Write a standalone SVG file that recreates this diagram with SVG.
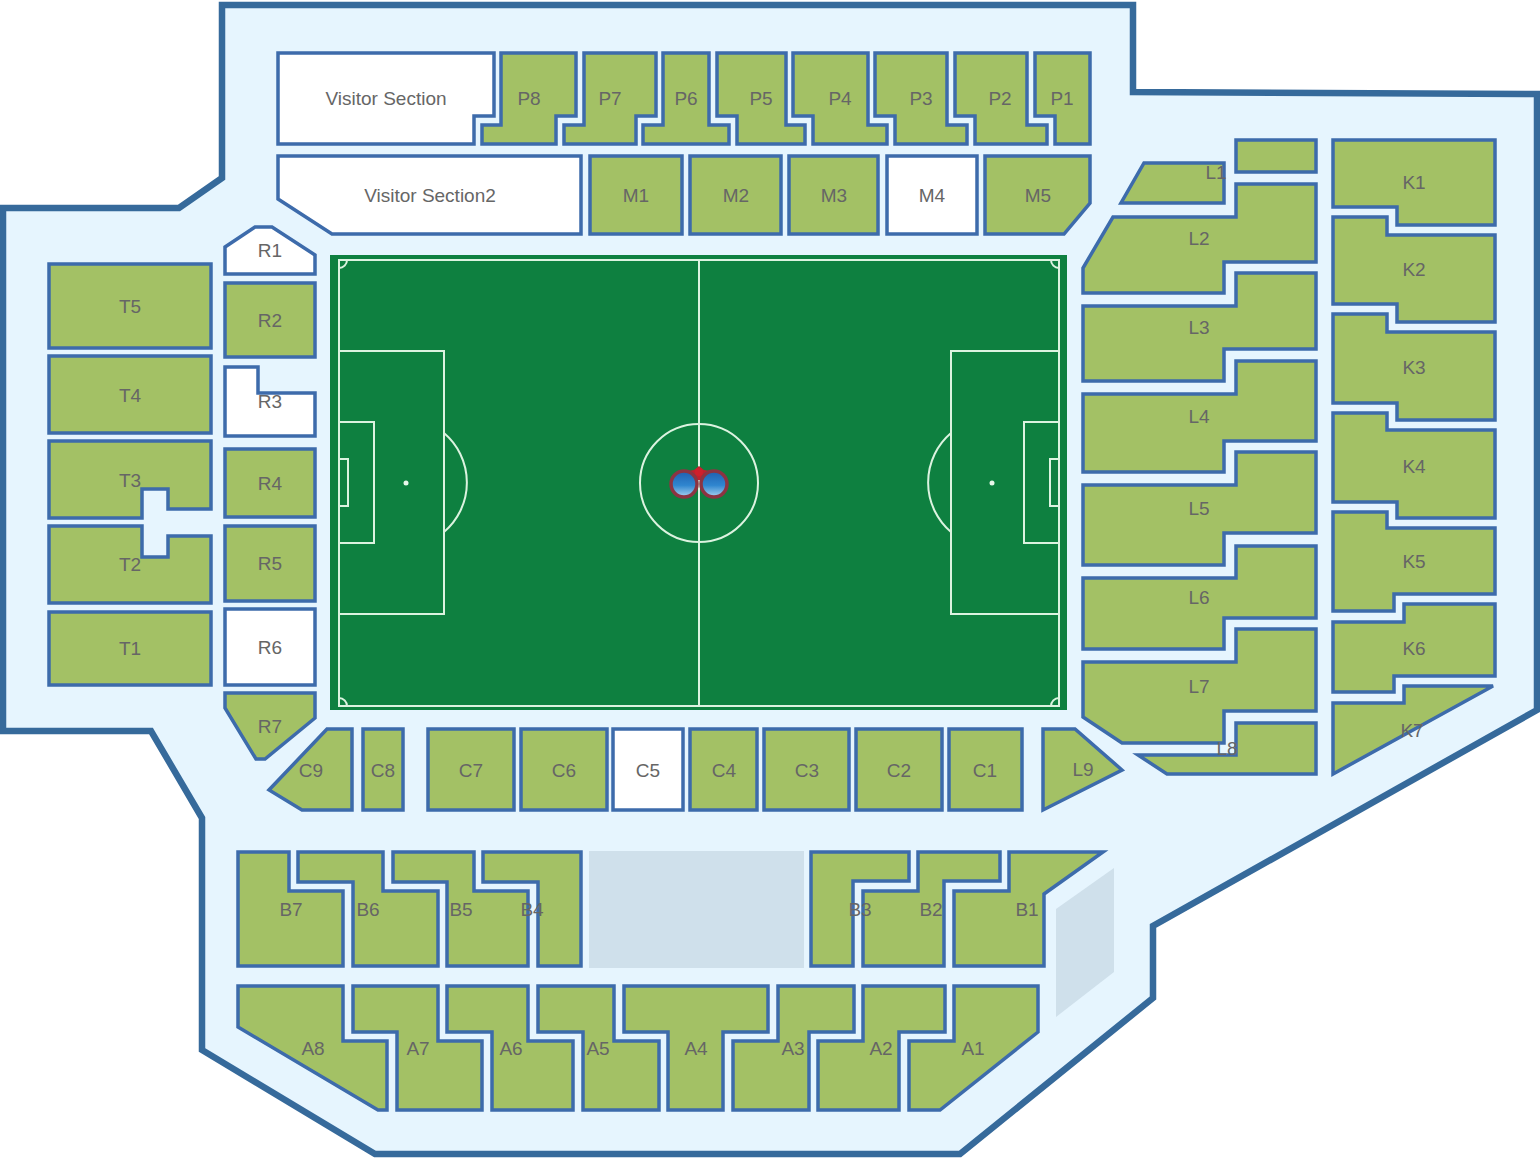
<svg xmlns="http://www.w3.org/2000/svg" width="1540" height="1165" viewBox="0 0 1540 1165">
<defs>
<linearGradient id="lens" x1="0" y1="0" x2="0" y2="1"><stop offset="0" stop-color="#1f5fb0"/><stop offset="0.55" stop-color="#2f86cf"/><stop offset="1" stop-color="#a9d3ee"/></linearGradient>
</defs>
<style>
text{font-family:"Liberation Sans",Arial,sans-serif;font-size:19px;fill:#666;text-anchor:middle}
.g path,.g polygon,.g rect{fill:#a3c165;stroke:#3d6bab;stroke-width:3.5}
.w path,.w polygon,.w rect{fill:#fff;stroke:#3d6bab;stroke-width:3.5}
.l{fill:none;stroke:#dcf3e0;stroke-width:2}
</style>
<rect width="1540" height="1165" fill="#fff"/>
<polygon id="outline" points="222,5 1133,5 1133,92 1537,94 1537,710 1153,926 1153,998 960,1154 375,1154 202,1050 202,818 151,731 3,731 3,208 179,208 222,178" fill="#e6f5fe" stroke="#366a9b" stroke-width="6.5"/>
<rect x="589" y="851" width="215" height="117" fill="#cfe0eb"/>
<polygon points="1056,909 1114,868 1114,972 1056,1017" fill="#cfe0eb"/>
<g id="pitch">
<rect x="330" y="255" width="737" height="455" fill="#0e8040"/>
<rect class="l" x="339" y="260" width="720" height="446"/>
<path class="l" d="M699 260V706M339 351H444V614H339M339 422H374V543H339M339 459H348V506H339M444 433A65 65 0 0 1 444 532M1059 351H951V614H1059M1059 422H1024V543H1059M1059 459H1050V506H1059M951 433A65 65 0 0 0 951 532M339 268A8 8 0 0 0 347 260M1051 260A8 8 0 0 0 1059 268M339 698A8 8 0 0 1 347 706M1059 698A8 8 0 0 0 1051 706"/>
<circle class="l" cx="699" cy="483" r="59"/>
<circle cx="406" cy="483" r="2.5" fill="#e8f7ea"/>
<circle cx="992" cy="483" r="2.5" fill="#e8f7ea"/>
</g>
<g id="binoculars">
<path d="M676 473L694 470L699 466L704 470L722 473L714 480H684Z" fill="#c0202e"/>
<circle cx="684" cy="484" r="13" fill="url(#lens)" stroke="#8c3442" stroke-width="3.5"/>
<circle cx="714" cy="484" r="13" fill="url(#lens)" stroke="#8c3442" stroke-width="3.5"/>
<circle cx="699" cy="472" r="4" fill="#d01f2c"/>
</g>
<g id="Visitor-Section" class="w"><polygon points="278,53 494,53 494,116 474,116 474,144 278,144"/><text x="386" y="105">Visitor Section</text></g>
<g id="P8" class="g"><polygon points="501,53 576,53 576,116 556,116 556,144 482,144 482,125 501,125"/><text x="529" y="105">P8</text></g>
<g id="P7" class="g"><polygon points="584,53 656,53 656,116 636,116 636,144 564,144 564,125 584,125"/><text x="610" y="105">P7</text></g>
<g id="P6" class="g"><polygon points="663,53 709,53 709,125 729,125 729,144 643,144 643,125 663,125"/><text x="686" y="105">P6</text></g>
<g id="P5" class="g"><polygon points="717,53 786,53 786,125 805,125 805,144 737,144 737,116 717,116"/><text x="761" y="105">P5</text></g>
<g id="P4" class="g"><polygon points="793,53 868,53 868,125 887,125 887,144 813,144 813,116 793,116"/><text x="840" y="105">P4</text></g>
<g id="P3" class="g"><polygon points="875,53 947,53 947,125 967,125 967,144 895,144 895,116 875,116"/><text x="921" y="105">P3</text></g>
<g id="P2" class="g"><polygon points="955,53 1027,53 1027,125 1047,125 1047,144 975,144 975,116 955,116"/><text x="1000" y="105">P2</text></g>
<g id="P1" class="g"><polygon points="1035,53 1090,53 1090,144 1055,144 1055,116 1035,116"/><text x="1062" y="105">P1</text></g>
<g id="Visitor-Section2" class="w"><polygon points="278,156 581,156 581,234 332,234 278,199"/><text x="430" y="202">Visitor Section2</text></g>
<g id="M1" class="g"><rect x="590" y="156" width="92" height="78"/><text x="636" y="202">M1</text></g>
<g id="M2" class="g"><rect x="690" y="156" width="91" height="78"/><text x="736" y="202">M2</text></g>
<g id="M3" class="g"><rect x="789" y="156" width="89" height="78"/><text x="834" y="202">M3</text></g>
<g id="M4" class="w"><rect x="887" y="156" width="90" height="78"/><text x="932" y="202">M4</text></g>
<g id="M5" class="g"><polygon points="985,156 1090,156 1090,203 1064,234 985,234"/><text x="1038" y="202">M5</text></g>
<g id="R1" class="w"><polygon points="225,247 255,227 272,227 315,255 315,274 225,274"/><text x="270" y="257">R1</text></g>
<g id="R2" class="g"><rect x="225" y="283" width="90" height="74"/><text x="270" y="327">R2</text></g>
<g id="R3" class="w"><polygon points="225,367 258,367 258,393 315,393 315,436 225,436"/><text x="270" y="408">R3</text></g>
<g id="R4" class="g"><rect x="225" y="449" width="90" height="68"/><text x="270" y="490">R4</text></g>
<g id="R5" class="g"><rect x="225" y="526" width="90" height="75"/><text x="270" y="570">R5</text></g>
<g id="R6" class="w"><rect x="225" y="609" width="90" height="76"/><text x="270" y="654">R6</text></g>
<g id="R7" class="g"><polygon points="225,693 315,693 315,718 265,759 256,759 225,708"/><text x="270" y="733">R7</text></g>
<g id="T5" class="g"><rect x="49" y="264" width="162" height="84"/><text x="130" y="313">T5</text></g>
<g id="T4" class="g"><rect x="49" y="356" width="162" height="77"/><text x="130" y="402">T4</text></g>
<g id="T3" class="g"><polygon points="49,441 211,441 211,509 168,509 168,489 142,489 142,518 49,518"/><text x="130" y="487">T3</text></g>
<g id="T2" class="g"><polygon points="49,526 142,526 142,557 168,557 168,536 211,536 211,603 49,603"/><text x="130" y="571">T2</text></g>
<g id="T1" class="g"><rect x="49" y="612" width="162" height="73"/><text x="130" y="655">T1</text></g>
<g id="C9" class="g"><polygon points="327,729 352,729 352,810 302,810 269,790"/><text x="311" y="777">C9</text></g>
<g id="C8" class="g"><rect x="363" y="729" width="40" height="81"/><text x="383" y="777">C8</text></g>
<g id="C7" class="g"><rect x="428" y="729" width="86" height="81"/><text x="471" y="777">C7</text></g>
<g id="C6" class="g"><rect x="521" y="729" width="86" height="81"/><text x="564" y="777">C6</text></g>
<g id="C5" class="w"><rect x="613" y="729" width="70" height="81"/><text x="648" y="777">C5</text></g>
<g id="C4" class="g"><rect x="690" y="729" width="67" height="81"/><text x="724" y="777">C4</text></g>
<g id="C3" class="g"><rect x="764" y="729" width="85" height="81"/><text x="807" y="777">C3</text></g>
<g id="C2" class="g"><rect x="856" y="729" width="86" height="81"/><text x="899" y="777">C2</text></g>
<g id="C1" class="g"><rect x="949" y="729" width="73" height="81"/><text x="985" y="777">C1</text></g>
<g id="L9" class="g"><polygon points="1043,729 1075,729 1122,770 1043,810"/><text x="1083" y="776">L9</text></g>
<g id="L1" class="g"><path d="M1144 163H1224V203H1121ZM1236 140H1316V172H1236Z"/><text x="1216" y="179">L1</text></g>
<g id="L2" class="g"><polygon points="1113,217 1236,217 1236,184 1316,184 1316,262 1224,262 1224,293 1083,293 1083,268"/><text x="1199" y="245">L2</text></g>
<g id="L3" class="g"><polygon points="1083,306 1236,306 1236,273 1316,273 1316,349 1224,349 1224,381 1083,381"/><text x="1199" y="334">L3</text></g>
<g id="L4" class="g"><polygon points="1083,394 1236,394 1236,361 1316,361 1316,441 1224,441 1224,472 1083,472"/><text x="1199" y="423">L4</text></g>
<g id="L5" class="g"><polygon points="1083,485 1236,485 1236,452 1316,452 1316,533 1224,533 1224,565 1083,565"/><text x="1199" y="515">L5</text></g>
<g id="L6" class="g"><polygon points="1083,578 1236,578 1236,546 1316,546 1316,618 1224,618 1224,649 1083,649"/><text x="1199" y="604">L6</text></g>
<g id="L7" class="g"><polygon points="1083,662 1236,662 1236,629 1316,629 1316,711 1224,711 1224,743 1122,743 1083,717"/><text x="1199" y="693">L7</text></g>
<g id="L8" class="g"><polygon points="1138,755 1236,755 1236,723 1316,723 1316,774 1167,774"/><text x="1227" y="755">L8</text></g>
<g id="K1" class="g"><polygon points="1333,140 1495,140 1495,225 1397,225 1397,207 1333,207"/><text x="1414" y="189">K1</text></g>
<g id="K2" class="g"><polygon points="1333,217 1387,217 1387,235 1495,235 1495,322 1397,322 1397,304 1333,304"/><text x="1414" y="276">K2</text></g>
<g id="K3" class="g"><polygon points="1333,314 1387,314 1387,332 1495,332 1495,420 1397,420 1397,403 1333,403"/><text x="1414" y="374">K3</text></g>
<g id="K4" class="g"><polygon points="1333,413 1387,413 1387,430 1495,430 1495,518 1397,518 1397,502 1333,502"/><text x="1414" y="473">K4</text></g>
<g id="K5" class="g"><polygon points="1333,512 1387,512 1387,528 1495,528 1495,594 1394,594 1394,611 1333,611"/><text x="1414" y="568">K5</text></g>
<g id="K6" class="g"><polygon points="1333,622 1404,622 1404,604 1495,604 1495,676 1394,676 1394,692 1333,692"/><text x="1414" y="655">K6</text></g>
<g id="K7" class="g"><polygon points="1333,703 1404,703 1404,686 1493,686 1333,774"/><text x="1412" y="737">K7</text></g>
<g id="B7" class="g"><polygon points="238,852 289,852 289,891 343,891 343,966 238,966"/><text x="291" y="916">B7</text></g>
<g id="B6" class="g"><polygon points="298,852 383,852 383,891 438,891 438,966 353,966 353,882 298,882"/><text x="368" y="916">B6</text></g>
<g id="B5" class="g"><polygon points="393,852 474,852 474,891 528,891 528,966 447,966 447,882 393,882"/><text x="461" y="916">B5</text></g>
<g id="B4" class="g"><polygon points="483,852 581,852 581,966 538,966 538,882 483,882"/><text x="532" y="916">B4</text></g>
<g id="B2" class="g"><polygon points="918,852 1000,852 1000,881 944,881 944,966 863,966 863,891 918,891"/><text x="931" y="916">B2</text></g>
<g id="B3" class="g"><polygon points="811,852 909,852 909,881 853,881 853,966 811,966"/><text x="860" y="916">B3</text></g>
<g id="B1" class="g"><polygon points="1009,852 1103,852 1044,894 1044,966 954,966 954,891 1009,891"/><text x="1027" y="916">B1</text></g>
<g id="A8" class="g"><polygon points="238,986 343,986 343,1041 387,1041 387,1110 378,1110 238,1027"/><text x="313" y="1055">A8</text></g>
<g id="A7" class="g"><polygon points="353,986 438,986 438,1041 482,1041 482,1110 397,1110 397,1032 353,1032"/><text x="418" y="1055">A7</text></g>
<g id="A6" class="g"><polygon points="447,986 528,986 528,1041 573,1041 573,1110 492,1110 492,1032 447,1032"/><text x="511" y="1055">A6</text></g>
<g id="A5" class="g"><polygon points="538,986 614,986 614,1041 659,1041 659,1110 583,1110 583,1032 538,1032"/><text x="598" y="1055">A5</text></g>
<g id="A4" class="g"><polygon points="624,986 768,986 768,1032 723,1032 723,1110 668,1110 668,1032 624,1032"/><text x="696" y="1055">A4</text></g>
<g id="A3" class="g"><polygon points="778,986 854,986 854,1032 809,1032 809,1110 733,1110 733,1041 778,1041"/><text x="793" y="1055">A3</text></g>
<g id="A2" class="g"><polygon points="863,986 945,986 945,1032 899,1032 899,1110 818,1110 818,1041 863,1041"/><text x="881" y="1055">A2</text></g>
<g id="A1" class="g"><polygon points="954,986 1038,986 1038,1032 940,1110 909,1110 909,1041 954,1041"/><text x="973" y="1055">A1</text></g>
<g id="connectors"/>
</svg>
